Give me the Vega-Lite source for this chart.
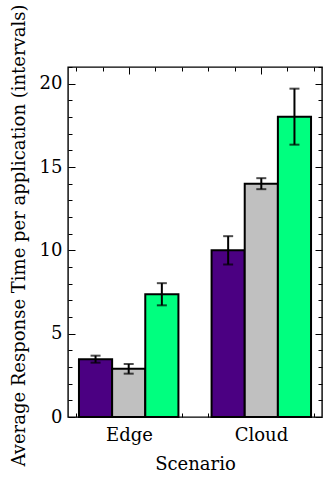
{
  "$schema": "https://vega.github.io/schema/vega-lite/v6.json",
  "autosize": {"type": "none"},
  "padding": {"left": 68, "top": 67, "right": 10, "bottom": 68},
  "width": 254,
  "height": 350,
  "background": "white",
  "config": {
    "view": {"stroke": "black", "strokeWidth": 1.4},
    "font": "DejaVu Serif",
    "axis": {
      "labelFont": "DejaVu Serif",
      "titleFont": "DejaVu Serif",
      "labelFontSize": 18,
      "titleFontSize": 18,
      "labelColor": "black",
      "titleColor": "black",
      "titleFontWeight": "normal",
      "domain": false,
      "grid": false,
      "tickColor": "black",
      "tickWidth": 1
    }
  },
  "datasets": {
    "bars": [
      {"scenario": "Edge", "series": "S1", "value": 3.47, "lo": 3.26, "hi": 3.68},
      {"scenario": "Edge", "series": "S2", "value": 2.9, "lo": 2.6, "hi": 3.18},
      {"scenario": "Edge", "series": "S3", "value": 7.37, "lo": 6.7, "hi": 8.03},
      {"scenario": "Cloud", "series": "S1", "value": 10.0, "lo": 9.15, "hi": 10.85},
      {"scenario": "Cloud", "series": "S2", "value": 14.0, "lo": 13.67, "hi": 14.33},
      {"scenario": "Cloud", "series": "S3", "value": 18.02, "lo": 16.34, "hi": 19.7}
    ],
    "frame": [{"p": 0}, {"p": 1}]
  },
  "layer": [
    {
      "data": {"name": "bars"},
      "encoding": {
        "x": {"field": "scenario", "type": "nominal", "scale": {"domain": ["Edge", "Cloud"], "paddingInner": 0.25, "paddingOuter": 0.0827}, "axis": null},
        "xOffset": {"field": "series", "type": "nominal", "scale": {"domain": ["S1", "S2", "S3"], "paddingInner": 0, "paddingOuter": 0}}
      },
      "layer": [
        {
          "mark": {"type": "bar", "stroke": "black", "strokeWidth": 2, "opacity": 1},
          "encoding": {
            "y": {"field": "value", "type": "quantitative", "scale": {"domain": [0, 21], "nice": false}, "axis": null},
            "color": {"field": "series", "type": "nominal", "scale": {"domain": ["S1", "S2", "S3"], "range": ["#4B0082", "#C0C0C0", "#00FF7F"]}, "legend": null}
          }
        },
        {
          "mark": {"type": "rule", "color": "black", "strokeWidth": 2},
          "encoding": {
            "y": {"field": "lo", "type": "quantitative", "scale": {"domain": [0, 21], "nice": false}, "axis": null},
            "y2": {"field": "hi"}
          }
        },
        {
          "mark": {"type": "tick", "color": "black", "thickness": 2, "size": 10},
          "encoding": {
            "y": {"field": "lo", "type": "quantitative", "scale": {"domain": [0, 21], "nice": false}, "axis": null}
          }
        },
        {
          "mark": {"type": "tick", "color": "black", "thickness": 2, "size": 10},
          "encoding": {
            "y": {"field": "hi", "type": "quantitative", "scale": {"domain": [0, 21], "nice": false}, "axis": null}
          }
        }
      ]
    },
    {
      "data": {"name": "frame"},
      "mark": {"type": "point", "opacity": 0},
      "encoding": {
        "x": {
          "field": "p", "type": "quantitative",
          "scale": {"domain": [-0.4625, 1.4625], "nice": false, "zero": false},
          "axis": {
            "orient": "bottom",
            "values": [-0.4, -0.2, 0, 0.2, 0.4, 0.6, 0.8, 1, 1.2, 1.4],
            "labelExpr": "abs(datum.value) < 0.01 ? 'Edge' : (abs(datum.value - 1) < 0.01 ? 'Cloud' : '')",
            "tickSize": {"condition": {"test": "abs(datum.value - round(datum.value)) < 0.01", "value": -7}, "value": -4},
            "labelPadding": 16,
            "labelFlush": false,
            "labelOverlap": false,
            "title": "Scenario",
            "titlePadding": 8
          }
        },
        "y": {
          "field": "p", "type": "quantitative",
          "scale": {"domain": [0, 21], "nice": false, "zero": true},
          "axis": {
            "orient": "left",
            "values": [0, 1, 2, 3, 4, 5, 6, 7, 8, 9, 10, 11, 12, 13, 14, 15, 16, 17, 18, 19, 20, 21],
            "labelExpr": "datum.value % 5 === 0 ? datum.label : ''",
            "tickSize": {"condition": {"test": "datum.value % 5 === 0", "value": -7}, "value": -4},
            "labelPadding": 13,
            "labelOverlap": false,
            "title": "Average Response Time per application (intervals)",
            "titlePadding": 11,
            "titleY": 168
          }
        }
      }
    },
    {
      "data": {"name": "frame"},
      "mark": {"type": "point", "opacity": 0},
      "encoding": {
        "x": {
          "field": "p", "type": "quantitative",
          "scale": {"domain": [-0.4625, 1.4625], "nice": false, "zero": false},
          "axis": {
            "orient": "top",
            "values": [-0.4, -0.2, 0, 0.2, 0.4, 0.6, 0.8, 1, 1.2, 1.4],
            "labels": false,
            "tickSize": {"condition": {"test": "abs(datum.value - round(datum.value)) < 0.01", "value": -7}, "value": -4},
            "title": null
          }
        },
        "y": {
          "field": "p", "type": "quantitative",
          "scale": {"domain": [0, 21], "nice": false, "zero": true},
          "axis": {
            "orient": "right",
            "values": [0, 1, 2, 3, 4, 5, 6, 7, 8, 9, 10, 11, 12, 13, 14, 15, 16, 17, 18, 19, 20, 21],
            "labels": false,
            "tickSize": {"condition": {"test": "datum.value % 5 === 0", "value": -7}, "value": -4},
            "title": null
          }
        }
      }
    }
  ],
  "resolve": {
    "scale": {"x": "independent", "y": "independent"},
    "axis": {"x": "independent", "y": "independent"}
  }
}
